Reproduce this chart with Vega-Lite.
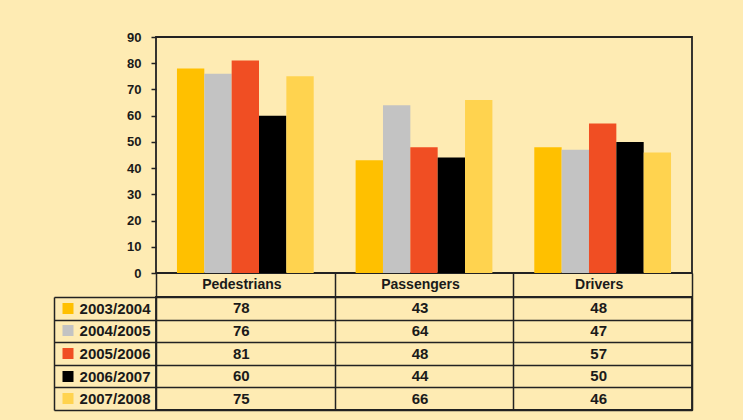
{
  "$schema": "https://vega.github.io/schema/vega-lite/v6.json",
  "background": "#FEEBB3",
  "padding": {"left": 52, "top": 30, "right": 52, "bottom": 9},
  "spacing": 24,
  "bounds": "flush",
  "data": {"values": [
    {"category": "Pedestrians", "year": "2003/2004", "value": 78},
    {"category": "Pedestrians", "year": "2004/2005", "value": 76},
    {"category": "Pedestrians", "year": "2005/2006", "value": 81},
    {"category": "Pedestrians", "year": "2006/2007", "value": 60},
    {"category": "Pedestrians", "year": "2007/2008", "value": 75},
    {"category": "Passengers", "year": "2003/2004", "value": 43},
    {"category": "Passengers", "year": "2004/2005", "value": 64},
    {"category": "Passengers", "year": "2005/2006", "value": 48},
    {"category": "Passengers", "year": "2006/2007", "value": 44},
    {"category": "Passengers", "year": "2007/2008", "value": 66},
    {"category": "Drivers", "year": "2003/2004", "value": 48},
    {"category": "Drivers", "year": "2004/2005", "value": 47},
    {"category": "Drivers", "year": "2005/2006", "value": 57},
    {"category": "Drivers", "year": "2006/2007", "value": 50},
    {"category": "Drivers", "year": "2007/2008", "value": 46}
  ]},
  "config": {
    "view": {"stroke": "#222222", "strokeWidth": 1.8},
    "font": "Liberation Sans",
    "axis": {"labelFont": "Liberation Sans", "labelFontSize": 14, "labelFontWeight": "bold", "labelColor": "#1a1a1a"}
  },
  "resolve": {"scale": {"x": "independent", "y": "independent", "color": "shared"}},
  "vconcat": [
    {
      "width": 536,
      "height": 236,
      "mark": {"type": "bar"},
      "encoding": {
        "x": {"field": "category", "type": "nominal", "sort": ["Pedestrians", "Passengers", "Drivers"], "scale": {"paddingInner": 0.2346, "paddingOuter": 0.1173}, "axis": null},
        "xOffset": {"field": "year", "type": "nominal", "sort": ["2003/2004", "2004/2005", "2005/2006", "2006/2007", "2007/2008"], "scale": {"paddingInner": 0, "paddingOuter": 0}},
        "y": {"field": "value", "type": "quantitative", "scale": {"domain": [0, 90], "nice": false},
              "axis": {"title": null, "values": [0, 10, 20, 30, 40, 50, 60, 70, 80, 90], "grid": false, "domain": false, "tickSize": 5, "tickColor": "#222222", "tickWidth": 1.5, "labelPadding": 10, "labelFontSize": 13}},
        "color": {"field": "year", "type": "nominal",
                  "scale": {"domain": ["2003/2004", "2004/2005", "2005/2006", "2006/2007", "2007/2008"], "range": ["#FFC000", "#C3C3C3", "#F04E23", "#000000", "#FFD34F"]},
                  "legend": null}
      }
    },
    {
      "width": 536,
      "height": 113,
      "resolve": {"axis": {"y": "independent"}},
      "layer": [
        {
          "mark": {"type": "text", "fontSize": 15, "fontWeight": "bold", "font": "Liberation Sans", "color": "#1a1a1a", "dx": -4},
          "encoding": {
            "x": {"field": "category", "type": "nominal", "sort": ["Pedestrians", "Passengers", "Drivers"], "scale": {"paddingInner": 0, "paddingOuter": 0},
                  "axis": {"orient": "top", "title": null, "tickBand": "extent", "tickSize": 24, "tickColor": "#222222", "tickWidth": 1.5, "grid": true, "gridColor": "#222222", "gridWidth": 1.5, "gridOpacity": 1, "domain": false, "labelPadding": -11, "labelBaseline": "middle", "labelAngle": 0, "labelOffset": -4}},
            "y": {"field": "year", "type": "nominal", "sort": ["2003/2004", "2004/2005", "2005/2006", "2006/2007", "2007/2008"], "scale": {"paddingInner": 0, "paddingOuter": 0},
                  "axis": {"orient": "left", "title": null, "tickBand": "extent", "tickSize": 102, "tickColor": "#222222", "tickWidth": 1.5, "grid": true, "gridColor": "#222222", "gridWidth": 1.5, "gridOpacity": 1, "domain": false, "labelPadding": -96, "labelAlign": "right", "labelBaseline": "middle", "labelFontSize": 15}},
            "text": {"field": "value", "type": "quantitative"}
          }
        },
        {
          "mark": {"type": "text", "text": ""},
          "encoding": {
            "y": {"field": "year", "type": "nominal", "sort": ["2003/2004", "2004/2005", "2005/2006", "2006/2007", "2007/2008"],
                  "axis": {"orient": "left", "offset": 83, "title": null, "labels": false, "domain": false, "grid": false, "ticks": true, "tickSize": 11, "tickWidth": 11, "tickCap": "butt",
                           "tickColor": {"condition": [
                             {"test": "datum.value === '2003/2004'", "value": "#FFC000"},
                             {"test": "datum.value === '2004/2005'", "value": "#C3C3C3"},
                             {"test": "datum.value === '2005/2006'", "value": "#F04E23"},
                             {"test": "datum.value === '2006/2007'", "value": "#000000"}
                           ], "value": "#FFD34F"}}}
          }
        },
        {
          "mark": {"type": "text", "text": ""},
          "encoding": {
            "y": {"field": "year", "type": "nominal", "sort": ["2003/2004", "2004/2005", "2005/2006", "2006/2007", "2007/2008"],
                  "axis": {"orient": "left", "offset": 102, "title": null, "labels": false, "ticks": false, "grid": false, "domain": true, "domainColor": "#222222", "domainWidth": 1.5}}
          }
        }
      ]
    }
  ]
}
